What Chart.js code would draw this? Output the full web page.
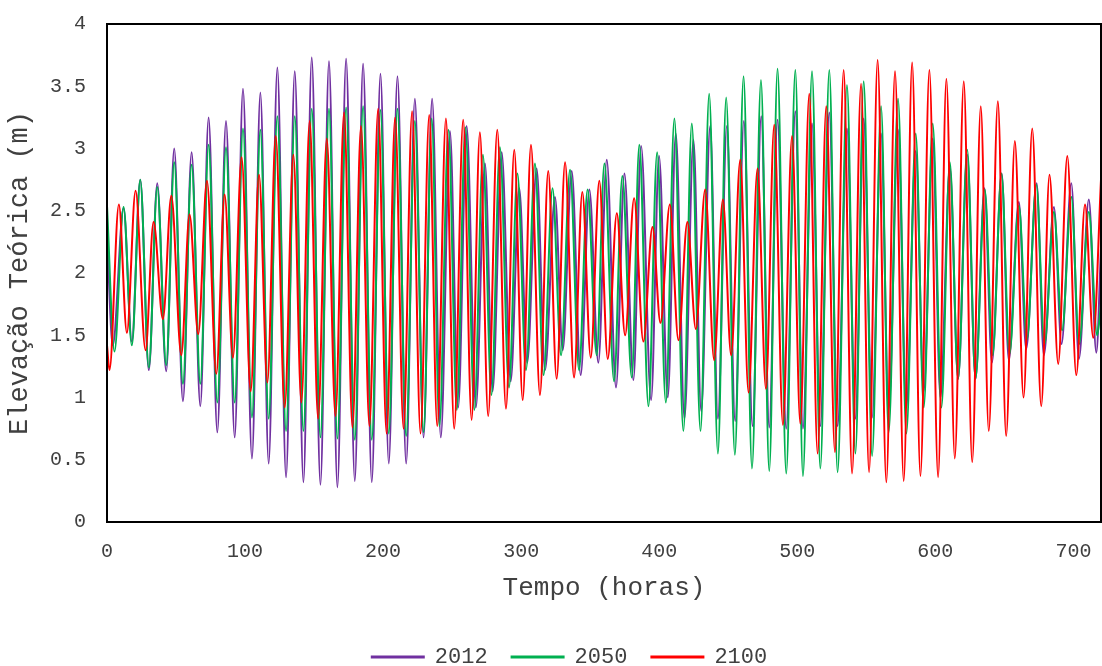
<!DOCTYPE html>
<html>
<head>
<meta charset="utf-8">
<script src="https://cdn.jsdelivr.net/npm/chart.js@4/dist/chart.umd.min.js"></script>
<style>
html,body{margin:0;padding:0;background:#fff;}
#wrap{width:1102px;height:666px;}
</style>
</head>
<body>
<div id="wrap"><canvas id="c" width="1102" height="666"></canvas></div>
<script>
// Series names
const seriesNames = ['2012', '2050', '2100'];

// Axis tick labels
const xTicks = [0, 100, 200, 300, 400, 500, 600, 700];
const yTicks = [0, 0.5, 1, 1.5, 2, 2.5, 3, 3.5, 4];

// 2012 : times (h) of turning points and elevations (m)
const t2012 = [
  0, 4.2, 12.0, 18.0, 24.1, 30.3, 36.4, 42.9, 48.7, 55.0,
  61.3, 67.6, 73.6, 79.9, 86.2, 92.5, 98.5, 105.0, 111.1, 117.1,
  123.4, 129.7, 136.0, 142.3, 148.3, 154.6, 160.8, 166.9, 173.2, 179.5,
  185.5, 191.8, 198.1, 204.1, 210.4, 216.7, 223.0, 229.3, 235.5, 241.8,
  248.4, 254.4, 260.5, 267.2, 273.8, 279.3, 285.9, 292.4, 298.6, 304.4,
  311.2, 317.3, 324.5, 330.1, 336.6, 343.1, 349.4, 355.9, 362.0, 368.7,
  374.8, 381.3, 386.9, 394.1, 399.9, 406.2, 412.0, 418.3, 424.8, 430.4,
  436.9, 442.5, 449.0, 455.0, 461.3, 467.6, 473.9, 479.7, 485.7, 492.0,
  498.6, 504.1, 510.7, 516.7, 523.2, 529.2, 536.0, 542.1, 548.1, 554.2,
  560.7, 566.2, 573.0, 579.0, 585.8, 591.6, 598.1, 603.7, 610.5, 616.5,
  623.1, 629.1, 635.6, 641.0, 648.1, 653.2, 660.5, 665.8, 673.4, 678.6,
  685.9, 691.4, 698.5, 704.0, 711.2, 716.6, 720
];
const v2012 = [
  2.30, 1.42, 2.52, 1.45, 2.75, 1.22, 2.72, 1.21, 3.00, 0.97,
  2.97, 0.93, 3.25, 0.72, 3.22, 0.68, 3.48, 0.51, 3.45, 0.47,
  3.65, 0.36, 3.62, 0.32, 3.73, 0.30, 3.70, 0.28, 3.72, 0.33,
  3.68, 0.32, 3.60, 0.47, 3.58, 0.47, 3.40, 0.68, 3.40, 0.68,
  3.14, 0.92, 3.18, 0.92, 2.88, 1.05, 2.97, 1.13, 2.68, 1.28,
  2.84, 1.22, 2.61, 1.38, 2.82, 1.18, 2.67, 1.28, 2.91, 1.08,
  2.80, 1.14, 3.02, 0.98, 2.94, 1.00, 3.12, 0.83, 3.07, 0.89,
  3.18, 0.83, 3.18, 0.81, 3.22, 0.77, 3.26, 0.76, 3.23, 0.75,
  3.30, 0.75, 3.20, 0.77, 3.29, 0.77, 3.16, 0.83, 3.24, 0.84,
  3.12, 0.90, 3.15, 0.92, 2.98, 1.05, 3.08, 1.00, 2.85, 1.15,
  2.95, 1.15, 2.68, 1.28, 2.80, 1.30, 2.57, 1.39, 2.72, 1.34,
  2.53, 1.43, 2.72, 1.31, 2.59, 1.36, 2.20
];

// 2050
const t2050 = [
  0, 5.4, 12.0, 18.0, 24.1, 30.3, 36.4, 42.9, 48.7, 55.0,
  61.3, 67.6, 73.6, 79.9, 86.2, 92.5, 98.5, 105.0, 111.1, 117.1,
  123.4, 129.7, 136.0, 142.3, 148.3, 154.6, 160.8, 166.9, 173.2, 179.5,
  185.5, 191.8, 198.1, 204.1, 210.4, 216.7, 223.0, 229.3, 235.2, 240.8,
  247.3, 253.4, 259.6, 266.1, 272.3, 278.5, 284.6, 291.2, 297.3, 303.5,
  310.0, 316.2, 322.7, 328.9, 335.4, 341.9, 348.1, 354.7, 360.3, 367.3,
  373.3, 380.1, 385.6, 392.2, 398.5, 404.8, 411.0, 417.5, 423.6, 429.9,
  436.2, 442.5, 448.5, 454.8, 461.1, 467.2, 473.7, 479.7, 485.7, 492.0,
  498.6, 504.1, 510.7, 516.7, 523.2, 529.2, 536.0, 542.1, 548.1, 554.2,
  560.7, 566.2, 573.0, 579.0, 585.8, 591.6, 598.1, 604.4, 610.5, 616.5,
  623.1, 629.1, 635.8, 641.5, 647.9, 653.7, 660.5, 666.4, 673.1, 679.1,
  685.9, 691.8, 698.5, 704.1, 711.2, 717.2, 720
];
const v2050 = [
  2.54, 1.37, 2.53, 1.42, 2.75, 1.24, 2.69, 1.26, 2.89, 1.11,
  2.87, 1.11, 3.03, 0.96, 3.01, 0.96, 3.16, 0.84, 3.15, 0.83,
  3.26, 0.73, 3.26, 0.73, 3.32, 0.68, 3.32, 0.67, 3.33, 0.66,
  3.34, 0.66, 3.31, 0.71, 3.32, 0.69, 3.22, 0.72, 3.24, 0.77,
  3.15, 0.90, 3.17, 0.90, 2.95, 1.02, 3.01, 1.08, 2.80, 1.22,
  2.88, 1.18, 2.68, 1.34, 2.83, 1.22, 2.67, 1.34, 2.88, 1.13,
  2.78, 1.16, 3.03, 0.93, 2.97, 0.96, 3.24, 0.73, 3.20, 0.73,
  3.44, 0.55, 3.41, 0.54, 3.58, 0.43, 3.55, 0.41, 3.64, 0.39,
  3.63, 0.37, 3.62, 0.43, 3.63, 0.40, 3.51, 0.55, 3.54, 0.53,
  3.34, 0.72, 3.40, 0.71, 3.12, 0.92, 3.20, 0.92, 2.89, 1.15,
  2.99, 1.15, 2.67, 1.34, 2.80, 1.35, 2.54, 1.47, 2.71, 1.43,
  2.49, 1.54, 2.61, 1.43, 2.49, 1.50, 1.75
];

// 2100
const t2100 = [
  0, 1.8, 8.6, 14.4, 20.7, 27.9, 33.7, 40.5, 46.6, 53.8,
  59.8, 66.1, 72.4, 79.2, 85.2, 91.2, 97.5, 104.1, 110.1, 116.2,
  122.2, 128.7, 135.0, 140.8, 146.8, 152.9, 159.2, 165.5, 171.7, 177.8,
  184.0, 190.1, 196.4, 202.5, 208.7, 214.8, 221.0, 227.1, 233.4, 239.2,
  245.5, 251.5, 258.0, 264.1, 270.1, 276.1, 282.7, 289.0, 295.0, 301.1,
  307.1, 313.6, 319.6, 325.7, 331.8, 338.3, 344.3, 350.4, 356.6, 362.7,
  369.3, 375.3, 381.8, 388.5, 395.1, 400.9, 407.7, 413.9, 420.4, 426.5,
  433.3, 439.8, 446.1, 452.1, 458.7, 464.7, 471.2, 477.3, 483.3, 489.6,
  496.2, 502.2, 508.7, 514.7, 521.0, 527.3, 533.6, 539.7, 546.2, 552.0,
  558.2, 564.5, 570.8, 577.1, 583.2, 589.2, 595.7, 602.0, 608.0, 614.1,
  620.6, 626.7, 632.9, 638.7, 645.3, 651.3, 657.6, 663.9, 670.2, 676.7,
  682.7, 689.0, 695.6, 702.1, 708.4, 714.4, 720
];
const v2100 = [
  1.42, 1.22, 2.55, 1.52, 2.66, 1.38, 2.41, 1.63, 2.62, 1.34,
  2.47, 1.51, 2.74, 1.19, 2.63, 1.32, 2.93, 1.05, 2.79, 1.12,
  3.10, 0.92, 2.95, 0.96, 3.22, 0.83, 3.08, 0.85, 3.29, 0.76,
  3.18, 0.77, 3.32, 0.71, 3.25, 0.75, 3.30, 0.71, 3.27, 0.77,
  3.24, 0.75, 3.23, 0.82, 3.13, 0.85, 3.15, 0.91, 2.99, 0.98,
  3.03, 1.02, 2.82, 1.15, 2.89, 1.16, 2.65, 1.32, 2.74, 1.31,
  2.48, 1.50, 2.60, 1.45, 2.37, 1.60, 2.55, 1.46, 2.41, 1.55,
  2.67, 1.30, 2.59, 1.34, 2.91, 1.04, 2.84, 1.07, 3.19, 0.78,
  3.10, 0.79, 3.44, 0.55, 3.34, 0.56, 3.63, 0.39, 3.52, 0.40,
  3.71, 0.32, 3.62, 0.33, 3.69, 0.37, 3.63, 0.36, 3.56, 0.51,
  3.54, 0.48, 3.34, 0.73, 3.38, 0.69, 3.06, 1.00, 3.16, 0.93,
  2.79, 1.27, 2.94, 1.18, 2.55, 1.48, 2.75
];

const colors = ['#7030A0', '#00B050', '#FF0000'];
const FONT = "'Liberation Mono', 'Courier New', monospace";
const TEXT = '#404040';

function pts(t, v) { return t.map((x, i) => ({ x: x, y: v[i] })); }

const frame = {
  id: 'frame',
  afterLayout(chart) {
    const lg = chart.legend;
    if (lg) { lg.left += 19; lg.right += 19; }
  },
  afterDatasetsDraw(chart) {
    const a = chart.chartArea, c = chart.ctx;
    c.save();
    c.strokeStyle = '#000';
    c.lineWidth = 2;
    c.strokeRect(a.left, a.top, a.right - a.left, a.bottom - a.top);
    c.restore();
  }
};

const series = [[t2012, v2012], [t2050, v2050], [t2100, v2100]];

new Chart(document.getElementById('c'), {
  type: 'line',
  data: {
    datasets: series.map((s, i) => ({
      label: seriesNames[i],
      data: pts(s[0], s[1]),
      borderColor: colors[i],
      backgroundColor: colors[i],
      borderWidth: 2,
      pointRadius: 0,
      fill: false,
      cubicInterpolationMode: 'monotone',
      order: 2 - i
    }))
  },
  options: {
    responsive: false,
    animation: false,
    events: [],
    layout: { padding: { top: 24, right: 1, left: 0, bottom: -12 } },
    plugins: {
      tooltip: { enabled: false },
      legend: {
        position: 'bottom',
        labels: {
          font: { family: FONT, size: 22 },
          color: TEXT,
          boxWidth: 52,
          boxHeight: 1,
          padding: 24,
          sort: (a, b) => a.datasetIndex - b.datasetIndex
        }
      }
    },
    scales: {
      x: {
        type: 'linear',
        min: 0, max: 720,
        afterBuildTicks: s => { s.ticks = xTicks.map(v => ({ value: v })); },
        afterFit: s => { s.height = 100; s.paddingLeft = 0; s.paddingRight = 0; },
        grid: { display: false, drawTicks: false },
        border: { display: false },
        ticks: { font: { family: FONT, size: 20 }, color: TEXT, maxRotation: 0, autoSkip: false, padding: 18 },
        title: { display: true, text: 'Tempo (horas)', font: { family: FONT, size: 26 }, color: TEXT, padding: { top: 0, bottom: 18 } }
      },
      y: {
        min: 0, max: 4,
        afterBuildTicks: s => { s.ticks = yTicks.map(v => ({ value: v })); },
        afterFit: s => { s.width = 107; s.paddingTop = 0; s.paddingBottom = 0; },
        grid: { display: false, drawTicks: false },
        border: { display: false },
        ticks: { font: { family: FONT, size: 20 }, color: TEXT, padding: 21, callback: v => String(v) },
        title: { display: true, text: 'Elevação Teórica (m)', font: { family: FONT, size: 27 }, color: TEXT, padding: { top: 4, bottom: 0 } }
      }
    }
  },
  plugins: [frame]
});
</script>
</body>
</html>
